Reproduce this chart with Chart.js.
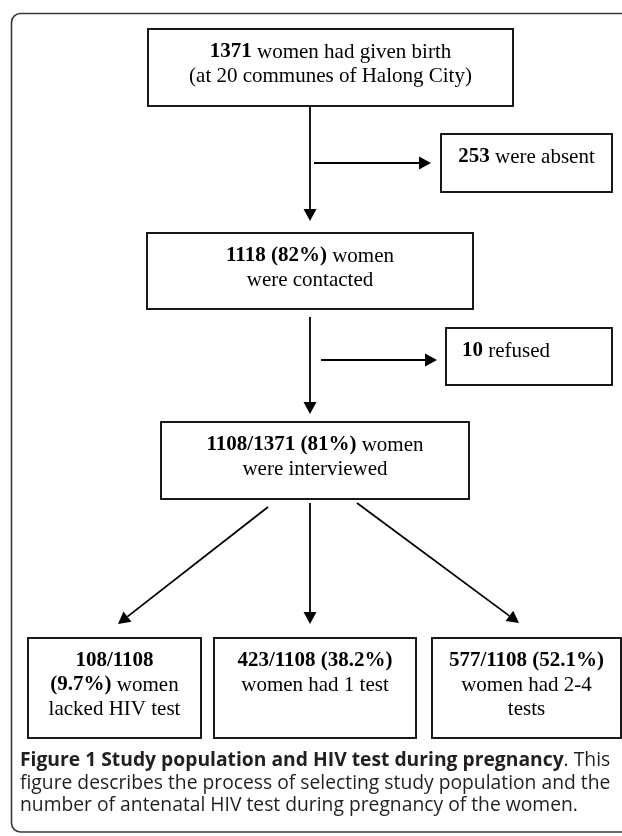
<!DOCTYPE html>
<html>
<head>
<meta charset="utf-8">
<script src="https://cdn.jsdelivr.net/npm/chart.js@4.4.1/dist/chart.umd.min.js"></script>
<style>
  html, body { margin: 0; padding: 0; background: #fff; }
  #wrap { position: relative; width: 622px; height: 836px; overflow: hidden; }
  #flow { position: absolute; left: 0; top: 0; }
  #caption {
    position: absolute; left: 20px; top: 748px; width: 600px;
    font-family: 'Open Sans', sans-serif; font-size: 19.3px; line-height: 22.5px;
    color: #231f20; white-space: nowrap;
  }
  #caption b { font-weight: 700; }
</style>
</head>
<body>
<div id="wrap">
  <canvas id="flow" width="622" height="836"></canvas>
  <div id="caption"><b>Figure 1 Study population and HIV test during pregnancy</b>. This<br>figure describes the process of selecting study population and the<br>number of antenatal HIV test during pregnancy of the women.</div>
</div>
<script>
// study flow numbers
const stageCounts = [1371, 1118, 1108];
const stagePercents = [null, 82, 81];
const excludedCounts = [253, 10];
const communes = 20;
const testCounts = [108, 423, 577];
const testPercents = [9.7, 38.2, 52.1];

// layout of the boxes (x1, y1, x2, y2 in page pixels)
const boxRects = [
    [148, 29, 513, 106],
    [441, 134, 612, 192],
    [147, 233, 473, 309],
    [446, 328, 612, 385],
    [161, 422, 469, 499],
    [28, 638, 201, 738],
    [214, 638, 416, 738],
    [432, 638, 621, 738]
];
const arrows = [
    [310, 106, 310, 221],
    [314, 163, 431, 163],
    [310, 317, 310, 414],
    [321, 360, 437, 360],
    [268, 507, 118, 624],
    [310, 503, 310, 624],
    [357, 503, 519, 623]
];

const B = s => [String(s), true];
const R = s => [s, false];

const boxText = [
    [[B(stageCounts[0]), R(' women had given birth')], [R('(at ' + communes + ' communes of Halong City)')]],
    [[B(excludedCounts[0]), R(' were absent')]],
    [[B(stageCounts[1] + ' (' + stagePercents[1] + '%)'), R(' women')], [R('were contacted')]],
    [[B(excludedCounts[1]), R(' refused')]],
    [[B(stageCounts[2] + '/' + stageCounts[0] + ' (' + stagePercents[2] + '%)'), R(' women')], [R('were interviewed')]],
    [[B(testCounts[0] + '/' + stageCounts[2])], [B('(' + testPercents[0] + '%)'), R(' women')], [R('lacked HIV test')]],
    [[B(testCounts[1] + '/' + stageCounts[2] + ' (' + testPercents[1] + '%)')], [R('women had 1 test')]],
    [[B(testCounts[2] + '/' + stageCounts[2] + ' (' + testPercents[2] + '%)')], [R('women had 2-4')], [R('tests')]]
];
const boxAlign = ['center', 'center', 'center', 'left', 'center', 'center', 'center', 'center'];

const FONT = '"Liberation Serif", "Times New Roman", serif';
const SIZE = '21px ';

const flowPlugin = {
    id: 'flow',
    afterDraw(chart) {
        const ctx = chart.ctx;
        const sx = chart.scales.x, sy = chart.scales.y;
        const px = v => sx.getPixelForValue(v);
        const py = v => sy.getPixelForValue(v);
        ctx.save();

        // outer rounded frame (runs off the right edge)
        ctx.strokeStyle = '#3a3a3a';
        ctx.lineWidth = 1.6;
        ctx.beginPath();
        ctx.roundRect(px(11.5), py(13.5), px(660) - px(11.5), py(832) - py(13.5), 9);
        ctx.stroke();

        // boxes
        ctx.strokeStyle = '#000';
        ctx.lineWidth = 1.8;
        boxRects.forEach((r, i) => {
            const x1 = px(r[0]), y1 = py(r[1]), x2 = px(r[2]), y2 = py(r[3]);
            ctx.strokeRect(x1, y1, x2 - x1, y2 - y1);

            ctx.fillStyle = '#000';
            ctx.textBaseline = 'middle';
            boxText[i].forEach((line, j) => {
                const widths = line.map(seg => {
                    ctx.font = (seg[1] ? 'bold ' : '') + SIZE + FONT;
                    return ctx.measureText(seg[0]).width;
                });
                const total = widths.reduce((a, b) => a + b, 0);
                let x = boxAlign[i] === 'left' ? x1 + 16 : (x1 + x2) / 2 - total / 2;
                const y = y1 + 23 + j * 24;
                line.forEach((seg, k) => {
                    ctx.font = (seg[1] ? 'bold ' : '') + SIZE + FONT;
                    ctx.textAlign = 'left';
                    ctx.fillText(seg[0], x, y);
                    x += widths[k];
                });
            });
        });

        // arrows
        arrows.forEach(a => {
            const x1 = px(a[0]), y1 = py(a[1]), x2 = px(a[2]), y2 = py(a[3]);
            const ang = Math.atan2(y2 - y1, x2 - x1);
            const len = 12, half = 6.5;
            const bx = x2 - len * Math.cos(ang), by = y2 - len * Math.sin(ang);
            ctx.strokeStyle = '#000';
            ctx.lineWidth = 1.8;
            ctx.beginPath();
            ctx.moveTo(x1, y1);
            ctx.lineTo(bx, by);
            ctx.stroke();
            ctx.fillStyle = '#000';
            ctx.beginPath();
            ctx.moveTo(x2, y2);
            ctx.lineTo(bx + half * Math.sin(ang), by - half * Math.cos(ang));
            ctx.lineTo(bx - half * Math.sin(ang), by + half * Math.cos(ang));
            ctx.closePath();
            ctx.fill();
        });

        ctx.restore();
    }
};

new Chart(document.getElementById('flow'), {
    type: 'scatter',
    data: { datasets: [{ data: [], pointRadius: 0 }] },
    options: {
        responsive: false,
        animation: false,
        events: [],
        layout: { padding: 0 },
        scales: {
            x: { type: 'linear', min: 0, max: 622, display: false },
            y: { type: 'linear', min: 0, max: 836, reverse: true, display: false }
        },
        plugins: {
            legend: { display: false },
            tooltip: { enabled: false }
        }
    },
    plugins: [flowPlugin]
});
</script>
</body>
</html>
